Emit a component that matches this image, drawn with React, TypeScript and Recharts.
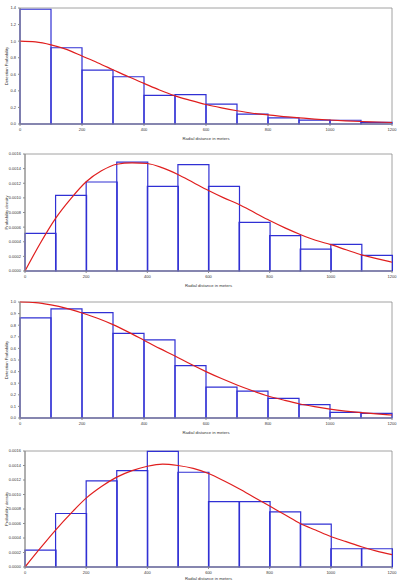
import { ComposedChart, XAxis, YAxis, Bar, Line, ReferenceArea } from "recharts"

const bins = ["0-100", "100-200", "200-300", "300-400", "400-500", "500-600", "600-700", "700-800", "800-900", "900-1000", "1000-1100", "1100-1200"]
const distanceTicks = [0, 200, 400, 600, 800, 1000, 1200]
const curveDistances = [0, 50, 100, 150, 200, 250, 300, 350, 400, 450, 500, 550, 600, 650, 700, 750, 800, 850, 900, 950, 1000, 1050, 1100, 1150, 1200]

// panel 1 - detection probability
const detectBarsA = [1.385, 0.92, 0.65, 0.57, 0.345, 0.355, 0.24, 0.12, 0.074, 0.046, 0.045, 0.02]
const detectCurveA = [1.0, 0.99, 0.955, 0.9, 0.82, 0.74, 0.655, 0.57, 0.49, 0.41, 0.34, 0.285, 0.235, 0.195, 0.16, 0.13, 0.11, 0.09, 0.075, 0.06, 0.048, 0.038, 0.03, 0.024, 0.018]
const detectTicksA = [0, 0.2, 0.4, 0.6, 0.8, 1.0, 1.2, 1.4]

// panel 2 - probability density
const densityBarsA = [0.000515, 0.001035, 0.001217, 0.00149, 0.001158, 0.001454, 0.001158, 0.000666, 0.000483, 0.0003, 0.000365, 0.000214]
const densityCurveA = [0, 0.00038, 0.00072, 0.00099, 0.00122, 0.00137, 0.00146, 0.00148, 0.00147, 0.00141, 0.00132, 0.00121, 0.0011, 0.001, 0.00091, 0.0008, 0.00069, 0.00059, 0.0005, 0.00042, 0.00036, 0.00029, 0.00022, 0.00017, 0.00012]
const densityTicks = [0, 0.0002, 0.0004, 0.0006, 0.0008, 0.001, 0.0012, 0.0014, 0.0016]

// panel 3 - detection probability
const detectBarsB = [0.863, 0.94, 0.909, 0.729, 0.674, 0.451, 0.266, 0.231, 0.169, 0.115, 0.048, 0.04]
const detectCurveB = [1.0, 0.995, 0.975, 0.945, 0.905, 0.86, 0.805, 0.74, 0.67, 0.6, 0.535, 0.465, 0.4, 0.34, 0.285, 0.235, 0.19, 0.155, 0.123, 0.098, 0.077, 0.06, 0.046, 0.035, 0.026]
const detectTicksB = [0, 0.1, 0.2, 0.3, 0.4, 0.5, 0.6, 0.7, 0.8, 0.9, 1.0]

// panel 4 - probability density
const densityBarsB = [0.000234, 0.000738, 0.001187, 0.00133, 0.001596, 0.001307, 0.000903, 0.000903, 0.000761, 0.000591, 0.000252, 0.000252]
const densityCurveB = [0, 0.00026, 0.00051, 0.00074, 0.00095, 0.00111, 0.00124, 0.00133, 0.00139, 0.00142, 0.0014, 0.00136, 0.00129, 0.00119, 0.00108, 0.00096, 0.00084, 0.00072, 0.0006, 0.00051, 0.00042, 0.00035, 0.00028, 0.00022, 0.00017]

const font = "'Liberation Sans', Arial, sans-serif"
const axisGray = "#8c8c8c"
const tickStyle = { fontSize: 4, fill: "#333", fontFamily: font }

type PanelProps = {
  top: number
  height: number
  axisWidth: number
  axisHeight: number
  bars: number[]
  curve: number[]
  yTicks: number[]
  digits: number
  yLabel: string
}

const Panel = ({ top, height, axisWidth, axisHeight, bars, curve, yTicks, digits, yLabel }: PanelProps) => {
  const barData = bins.map((bin, i) => ({ bin, value: bars[i] }))
  const lineData = curveDistances.map((r, i) => ({ r, fit: curve[i] }))
  const yMax = yTicks[yTicks.length - 1]

  return (
    <div style={{ position: "absolute", left: 0, top }}>
      <ComposedChart
        width={400}
        height={height}
        data={barData}
        margin={{ top: 8, right: 8, bottom: 0, left: 0 }}
        barCategoryGap={0}
        barGap={0}
      >
        <XAxis
          xAxisId="num"
          type="number"
          dataKey="r"
          domain={[0, 1200]}
          ticks={distanceTicks}
          height={axisHeight}
          tick={tickStyle}
          tickSize={2}
          stroke={axisGray}
          label={{ value: "Radial distance in meters", position: "insideBottom", offset: 5, style: { fontSize: 4.2, fill: "#333", fontFamily: font } }}
        />
        {/* bins only place the bars, the axis itself is not drawn */}
        <XAxis xAxisId="bin" dataKey="bin" height={0} hide />
        <YAxis
          domain={[0, yMax]}
          ticks={yTicks}
          width={axisWidth}
          tick={tickStyle}
          tickSize={2}
          stroke={axisGray}
          tickFormatter={(v: number) => v.toFixed(digits)}
          label={{ value: yLabel, angle: -90, position: "insideLeft", offset: 7, style: { fontSize: 4.2, fill: "#333", fontFamily: font, textAnchor: "middle" } }}
        />
        <ReferenceArea xAxisId="num" x1={0} x2={1200} y1={0} y2={yMax} stroke={axisGray} strokeWidth={0.8} fill="none" />
        <Bar xAxisId="bin" dataKey="value" fill="none" stroke="#3030d4" strokeWidth={1.2} isAnimationActive={false} />
        <Line
          xAxisId="num"
          data={lineData}
          dataKey="fit"
          type="monotone"
          stroke="#e01e1e"
          strokeWidth={1.2}
          dot={false}
          activeDot={false}
          isAnimationActive={false}
        />
      </ComposedChart>
    </div>
  )
}

const App = () => {
  return (
    <div style={{ position: "absolute", left: 0, top: 0, width: 400, height: 585, background: "#fff" }}>
      <Panel top={0} height={145} axisWidth={20} axisHeight={21} bars={detectBarsA} curve={detectCurveA} yTicks={detectTicksA} digits={1} yLabel="Detection Probability" />
      <Panel top={146} height={146} axisWidth={25} axisHeight={21} bars={densityBarsA} curve={densityCurveA} yTicks={densityTicks} digits={4} yLabel="Probability density" />
      <Panel top={294} height={145} axisWidth={20} axisHeight={21} bars={detectBarsB} curve={detectCurveB} yTicks={detectTicksB} digits={1} yLabel="Detection Probability" />
      <Panel top={443} height={142} axisWidth={25} axisHeight={18} bars={densityBarsB} curve={densityCurveB} yTicks={densityTicks} digits={4} yLabel="Probability density" />
    </div>
  )
}

export default App
